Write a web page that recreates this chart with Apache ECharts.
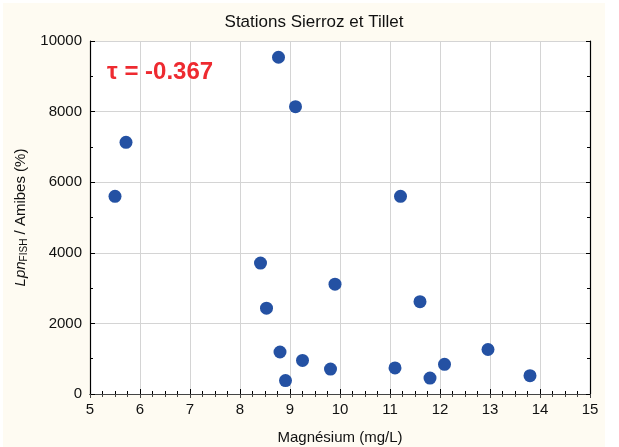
<!DOCTYPE html>
<html><head><meta charset="utf-8">
<script src="https://cdn.jsdelivr.net/npm/echarts@6/dist/echarts.min.js"></script>
<style>html,body{margin:0;padding:0;background:#fff}#c{width:619px;height:447px}</style>
</head><body><div id="c"></div>
<script>
const magnesium = [5.5, 5.72, 8.77, 9.11, 8.41, 8.53, 8.8, 8.91, 9.25, 9.9, 9.81, 11.1, 11.21, 11.6, 11.8, 12.09, 12.96, 13.8];
const lpnAmibes = [5600, 7130, 9540, 8140, 3710, 2430, 1190, 380, 950, 3110, 705, 740, 5600, 2615, 450, 840, 1260, 520];
const xTicks = [5, 6, 7, 8, 9, 10, 11, 12, 13, 14, 15];
const yTicks = [0, 2000, 4000, 6000, 8000, 10000];
const titleText = 'Stations Sierroz et Tillet';
const tauText = 'τ = -0.367';

const font = 'Liberation Sans, Arial, sans-serif';
const chart = echarts.init(document.getElementById('c'), null, {renderer: 'canvas'});
const pts = magnesium.map((x, i) => [x, lpnAmibes[i]]);
const axisCommon = {
  axisLine: {show: true, lineStyle: {color: '#000', width: 1.2}},
  axisTick: {show: true, inside: true, length: 5, lineStyle: {color: '#000'}},
  minorTick: {show: true, splitNumber: 4, length: 3, lineStyle: {color: '#000'}},
};
chart.setOption({
  backgroundColor: '#ffffff',
  animation: false,
  graphic: [
    {type: 'rect', z: -10, shape: {x: 3, y: 3, width: 602, height: 444}, style: {fill: '#fefbf2'}},
    {type: 'text', z: 100, left: 107, top: 60, style: {text: tauText, fill: '#ee2a30', font: 'bold 24px "Liberation Sans", Arial, sans-serif'}}
  ],
  title: {text: titleText, left: 309, top: 9, textAlign: 'center',
    textStyle: {fontFamily: font, fontSize: 17, fontWeight: 'normal', color: '#111'}},
  grid: {left: 90, right: 29, top: 41, bottom: 53, backgroundColor: '#fff', show: true, borderWidth: 0,
    containLabel: false, outerBoundsMode: 'none'},
  xAxis: [{
    type: 'value', min: xTicks[0], max: xTicks[xTicks.length - 1], interval: 1,
    name: 'Magnésium (mg/L)', nameLocation: 'middle', nameGap: 36,
    nameTextStyle: {fontFamily: font, fontSize: 15, color: '#111'},
    axisLabel: {fontFamily: font, fontSize: 15, color: '#111', margin: 8},
    splitLine: {show: true, lineStyle: {color: '#d4d4d4', width: 1}},
    ...axisCommon
  }, {
    type: 'value', position: 'top', min: xTicks[0], max: xTicks[xTicks.length - 1], interval: 1,
    axisLabel: {show: false}, splitLine: {show: false},
    ...axisCommon,
    axisLine: {show: true, lineStyle: {color: '#444', width: 1}},
    axisTick: {show: true, inside: true, length: 4, lineStyle: {color: '#444'}},
    minorTick: {show: true, splitNumber: 4, length: 3, lineStyle: {color: '#444'}}
  }],
  yAxis: [{
    type: 'value', min: yTicks[0], max: yTicks[yTicks.length - 1], interval: 2000,
    name: '{i|Lpn}{s|FISH}{n| / Amibes (%)}', nameLocation: 'middle', nameGap: 54, nameRotate: 90,
    nameTextStyle: {fontFamily: font, fontSize: 15, color: '#111',
      rich: {
        i: {fontFamily: font, fontSize: 15, fontStyle: 'italic', color: '#111'},
        s: {fontFamily: font, fontSize: 10, color: '#111', padding: [7, 0, 0, 0], verticalAlign: 'bottom'},
        n: {fontFamily: font, fontSize: 15, color: '#111'}
      }},
    axisLabel: {fontFamily: font, fontSize: 15, color: '#111', margin: 8, formatter: v => String(v)},
    splitLine: {show: true, lineStyle: {color: '#d4d4d4', width: 1}},
    ...axisCommon,
    minorTick: {show: true, splitNumber: 2, length: 3, lineStyle: {color: '#000'}}
  }, {
    type: 'value', position: 'right', min: yTicks[0], max: yTicks[yTicks.length - 1], interval: 2000,
    axisLabel: {show: false}, splitLine: {show: false},
    ...axisCommon,
    axisTick: {show: true, inside: true, length: 4, lineStyle: {color: '#000'}},
    minorTick: {show: true, splitNumber: 2, length: 3, lineStyle: {color: '#000'}}
  }],
  series: [{
    type: 'scatter', data: pts, symbol: 'circle', symbolSize: 13,
    itemStyle: {color: '#2451a3', opacity: 1}
  }]
});
</script></body></html>
